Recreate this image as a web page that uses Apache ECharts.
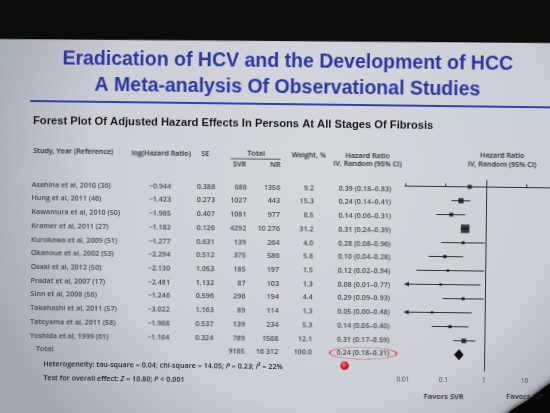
<!DOCTYPE html>
<html><head><meta charset="utf-8">
<script src="https://cdn.jsdelivr.net/npm/echarts@6/dist/echarts.min.js"></script>
<style>
html,body{margin:0;padding:0;width:550px;height:413px;overflow:hidden;background:#0a0a0a;}
#wrap{position:absolute;left:-25px;top:-23px;width:600px;height:460px;transform:rotate(0.7deg);transform-origin:300px 230px;filter:blur(0.3px);}
#chart{width:600px;height:460px;}
</style></head><body><div id="wrap"><div id="chart"></div></div>
<script>
// ---------- data ----------
const studies = ['Asahina et al, 2010 (36)','Hung et al, 2011 (46)','Kawamura et al, 2010 (50)','Kramer et al, 2011 (27)','Kurokawa et al, 2009 (51)','Okanoue et al, 2002 (53)','Osaki et al, 2012 (50)','Pradat et al, 2007 (17)','Sinn et al, 2008 (56)','Takahashi et al, 2011 (57)','Tateyama et al, 2011 (58)','Yoshida et al, 1999 (61)'];
const logHR = [-0.944,-1.423,-1.985,-1.182,-1.277,-2.294,-2.130,-2.481,-1.246,-3.022,-1.968,-1.164];
const se = [0.388,0.273,0.407,0.126,0.631,0.512,1.053,1.132,0.596,1.163,0.537,0.324];
const svr = [686,1027,1081,4292,139,375,185,87,296,89,139,789];
const nr = [1356,443,977,10276,264,586,197,103,194,114,234,1568];
const weight = [9.2,15.3,8.5,31.2,4.0,5.8,1.5,1.3,4.4,1.3,5.3,12.1];
const hr = [0.39,0.24,0.14,0.31,0.28,0.10,0.12,0.08,0.29,0.05,0.14,0.31];
const ciLow = [0.18,0.14,0.06,0.24,0.08,0.04,0.02,0.01,0.09,0.00,0.05,0.17];
const ciHigh = [0.83,0.41,0.31,0.39,0.96,0.28,0.94,0.77,0.93,0.48,0.40,0.59];
const totalSVR = 9185;
const totalNR = 16312;
const totalWeight = 100.0;
const pooledHR = 0.24;
const pooledLow = 0.18;
const pooledHigh = 0.31;
const xTicks = [0.01, 0.1, 1, 10];
const heterogeneityText = 'Heterogeneity: tau-square = 0.04; chi-square = 14.05; {i|P} = 0.23; {i|I}\u00B2 = 22%';
const overallText = 'Test for overall effect: {i|Z} = 10.80; {i|P} < 0.001';

// ---------- layout ----------
const OX = 25, OY = 23;
const F_ROW0 = 184.5, F_STEP = 14.0, F_AXIS_ROW = 13.15;
const T_ROW0 = 187.6, T_STEP = 13.72;
const F_LEFT = 405, DECADE = 40.5;
const TF = '"Open Sans", sans-serif';
const TS = 7.15, TW = 600, TC = '#1f1f1f';
const AF = '"Liberation Sans", Arial, sans-serif';

const f2 = v => v.toFixed(2);
const fmtLog = v => (v < 0 ? '\u2212' : '') + Math.abs(v).toFixed(3);
const fmtN = v => v >= 10000 ? String(v).replace(/(\d+)(\d{3})$/, '$1 $2') : String(v);
const ciText = (h, l, u) => `${f2(h)} (${f2(l)}\u2013${f2(u)})`;
const xMin = xTicks[0];

function col(name, x, texts, align, rows) {
  return {
    type: 'scatter', name, xAxisIndex: 1, yAxisIndex: 1, symbolSize: 0, silent: true,
    data: texts.map((t, i) => ({ name: t, value: [x + OX, rows ? rows[i] : i] })),
    label: { show: true, position: 'inside', align, verticalAlign: 'middle', formatter: '{b}',
      fontFamily: TF, fontSize: TS, fontWeight: TW, color: TC }
  };
}
function T(x, y, text, o) {
  o = o || {};
  return { type: 'text', x: x + OX, y: y + OY, silent: true,
    style: { text, fill: o.fill || TC, fontFamily: o.ff || TF, fontSize: o.fs || TS,
      fontWeight: o.fw || TW, align: o.align || 'left', verticalAlign: 'middle', rich: o.rich } };
}

const rows12 = studies.map((_, i) => i).concat([12]);
const series = [
  {
    type: 'custom', xAxisIndex: 0, yAxisIndex: 0, silent: true,
    data: studies.map((s, i) => [Math.max(ciLow[i], xMin), ciHigh[i], i, ciLow[i] <= xMin ? 1 : 0]),
    encode: { x: [0, 1], y: 2 },
    renderItem: (params, api) => {
      const p1 = api.coord([api.value(0), api.value(2)]);
      const p2 = api.coord([api.value(1), api.value(2)]);
      const ch = [{ type: 'line', shape: { x1: p1[0], y1: p1[1], x2: p2[0], y2: p2[1] },
        style: { stroke: '#333', lineWidth: 1 } }];
      if (api.value(3)) ch.push({ type: 'polygon', shape: { points: [[p1[0], p1[1]], [p1[0] + 5, p1[1] - 2.3], [p1[0] + 5, p1[1] + 2.3]] },
        style: { fill: '#222' } });
      return { type: 'group', children: ch };
    },
    markLine: { silent: true, symbol: 'none', label: { show: false },
      lineStyle: { color: '#333', width: 1, type: 'solid' }, data: [{ xAxis: 1 }] }
  },
  {
    type: 'scatter', xAxisIndex: 0, yAxisIndex: 0, silent: true, symbol: 'rect',
    data: hr.map((v, i) => [v, i, weight[i]]),
    symbolSize: d => 2.2 + 0.2 * d[2],
    itemStyle: { color: '#0e0e0e' }
  },
  {
    type: 'custom', xAxisIndex: 0, yAxisIndex: 0, silent: true,
    data: [[pooledLow, pooledHigh, pooledHR, 12]],
    encode: { x: [0, 1], y: 3 },
    renderItem: (params, api) => {
      const l = api.coord([api.value(0), api.value(3)]);
      const r = api.coord([api.value(1), api.value(3)]);
      const c = api.coord([api.value(2), api.value(3)]);
      return { type: 'polygon', shape: { points: [[l[0], l[1]], [c[0], c[1] - 5.5], [r[0], r[1]], [c[0], c[1] + 5.5]] },
        style: { fill: '#0c0c0c' } };
    }
  },
  col('study', 31.5, studies, 'left'),
  col('total', 37.8, ['Total'], 'left', [12]),
  col('log', 171, logHR.map(fmtLog), 'right'),
  col('se', 215, se.map(v => v.toFixed(3)), 'right'),
  col('svr', 246.5, svr.concat([totalSVR]).map(fmtN), 'right', rows12),
  col('nr', 280, nr.concat([totalNR]).map(fmtN), 'right', rows12),
  col('w', 313.8, weight.concat([totalWeight]).map(v => v.toFixed(1)), 'right', rows12),
  col('hr', 338.5, hr.map((h, i) => ciText(h, ciLow[i], ciHigh[i])).concat([ciText(pooledHR, pooledLow, pooledHigh)]), 'left', rows12)
];

const richI = { i: { fontStyle: 'italic', fontFamily: TF, fontSize: TS, fontWeight: TW, fill: TC } };
const band = [[-10, -10], [610, -10], [610, 39.5 + OY - 0.1], [-10, 42.6 + OY]];
const graphic = [
  { type: 'polygon', silent: true, shape: { points: band }, style: { fill: '#0b0b0b' } },
  { type: 'polygon', silent: true, shape: { points: [[498+OX+2, 420+OY], [512+OX+2, 410+OY-3], [528+OX+2, 400+OY-3], [543+OX+2, 388+OY-3], [560+OX+2, 376+OY-3], [600, 360+OY], [600, 460], [498+OX, 460]] },
    style: { fill: '#050505', shadowBlur: 6, shadowColor: '#000' } },
  T(286, 61.9, 'Eradication of HCV and the Development of HCC', { ff: AF, fs: 19.5, fw: 'bold', fill: '#2b36a6', align: 'center' }),
  T(286, 87.9, 'A Meta-analysis Of Observational Studies', { ff: AF, fs: 19.5, fw: 'bold', fill: '#2b36a6', align: 'center' }),
  { type: 'line', silent: true, shape: { x1: 29 + OX, y1: 104 + OY, x2: 600, y2: 104 + OY }, style: { stroke: '#3341b0', lineWidth: 2 } },
  T(32, 123.7, 'Forest Plot Of Adjusted Hazard Effects In Persons At All Stages Of Fibrosis', { ff: AF, fs: 11.2, fw: 'bold', fill: '#1a1a1a' }),
  T(32.5, 153.5, 'Study, Year (Reference)'),
  T(131, 154.7, 'log(Hazard Ratio)'),
  T(200.7, 154.6, 'SE'),
  T(255.5, 154.2, 'Total', { align: 'center' }),
  { type: 'line', silent: true, shape: { x1: 230 + OX, y1: 159.2 + OY, x2: 280 + OX, y2: 159.2 + OY }, style: { stroke: '#333', lineWidth: 0.8 } },
  T(239, 165.3, 'SVR', { align: 'center' }),
  T(280, 165, 'NR', { align: 'right' }),
  T(308.3, 154.6, 'Weight, %', { align: 'center' }),
  T(367, 154.6, 'Hazard Ratio', { align: 'center' }),
  T(367, 163.4, 'IV, Random (95% CI)', { align: 'center' }),
  T(501.5, 153.4, 'Hazard Ratio', { align: 'center' }),
  T(501.5, 162.4, 'IV, Random (95% CI)', { align: 'center' }),
  T(45.3, 367.4, heterogeneityText, { rich: richI }),
  T(45.5, 380.7, overallText, { rich: richI }),
  T(446, 395, 'Favors SVR', { align: 'center', fs: 7.6 }),
  T(527, 394, 'Favors NR', { align: 'center', fs: 7.6 }),
  { type: 'circle', silent: true, x: 365 + OX, y: 352.2 + OY, scaleY: 6 / 33.5,
    shape: { cx: 0, cy: 0, r: 33.5 }, style: { fill: 'none', stroke: '#d2303c', lineWidth: 1.4, strokeNoScale: true } },
  { type: 'circle', silent: true, shape: { cx: 346.5 + OX, cy: 364.8 + OY, r: 4.3 },
    style: { fill: { type: 'radial', x: 0.4, y: 0.35, r: 0.7, colorStops: [{ offset: 0, color: '#ff7a7a' }, { offset: 0.5, color: '#e0202c' }, { offset: 1, color: '#a8101a' }] } } }
];

const chart = echarts.init(document.getElementById('chart'), null, { renderer: 'canvas' });
chart.setOption({
  animation: false,
  backgroundColor: { type: 'radial', x: 0.58, y: 0.42, r: 0.78,
    colorStops: [{ offset: 0, color: '#d5d8dd' }, { offset: 0.65, color: '#cbced4' }, { offset: 1, color: '#a4a8af' }] },
  grid: [
    { left: F_LEFT + OX, width: DECADE * 4, top: F_ROW0 - 0.5 * F_STEP + OY, height: (F_AXIS_ROW + 0.5) * F_STEP, outerBoundsMode: 'none', containLabel: false },
    { left: 0, width: 600, top: T_ROW0 - T_STEP + OY, height: 16 * T_STEP, outerBoundsMode: 'none', containLabel: false }
  ],
  xAxis: [
    { type: 'log', logBase: 10, gridIndex: 0, min: xMin, max: 100,
      axisLine: { show: true, lineStyle: { color: '#333', width: 1 } },
      axisTick: { show: true, inside: true, length: 3, lineStyle: { color: '#333' } },
      splitLine: { show: false }, minorTick: { show: false },
      axisLabel: { color: '#444', fontSize: 6.6, fontFamily: TF, margin: 6,
        formatter: v => { const t = xTicks.find(t => Math.abs(Math.log10(t) - Math.log10(v)) < 1e-6); return t === undefined ? '' : String(t); } } },
    { type: 'value', gridIndex: 1, min: 0, max: 600, show: false }
  ],
  yAxis: [
    { type: 'value', gridIndex: 0, inverse: true, min: -0.5, max: F_AXIS_ROW, show: false },
    { type: 'value', gridIndex: 1, inverse: true, min: -1, max: 15, show: false }
  ],
  series,
  graphic
});
</script></body></html>
